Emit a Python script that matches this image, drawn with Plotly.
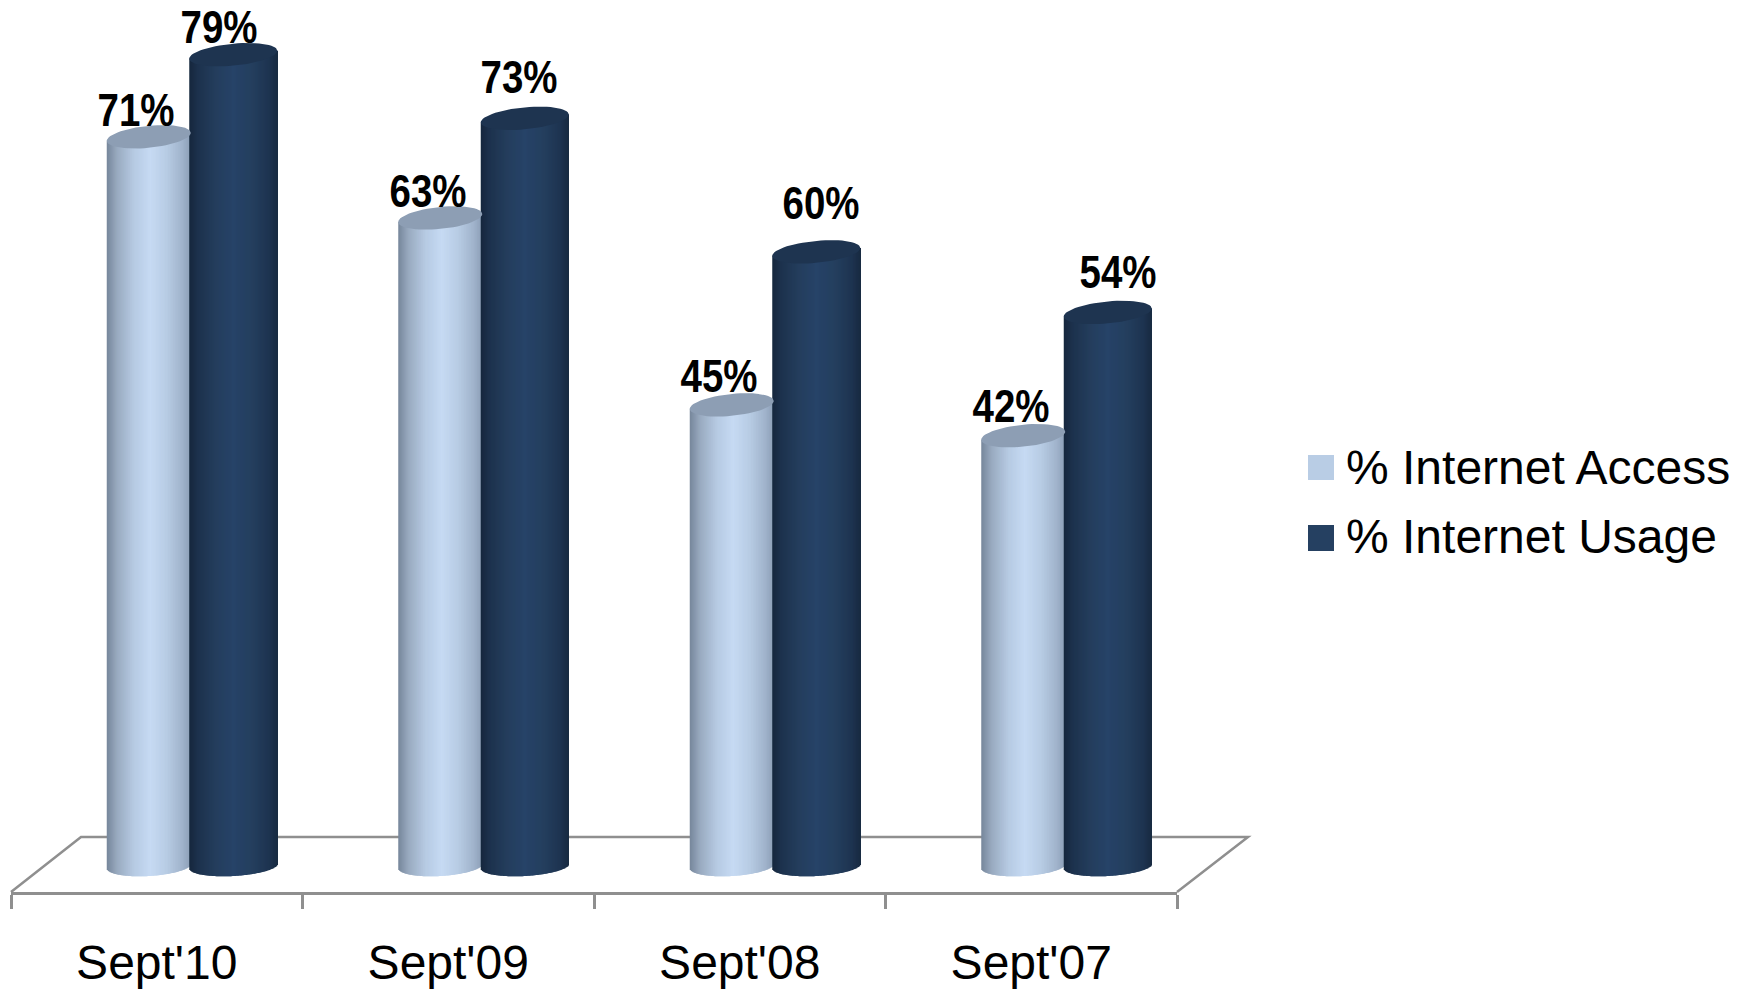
import math
import plotly.graph_objects as go

# ---- data ----
categories = ["Sept'10", "Sept'09", "Sept'08", "Sept'07"]
series_names = ["% Internet Access", "% Internet Usage"]
internet_access = [71, 63.1, 44.9, 41.9]
internet_usage = [79, 72.8, 59.8, 53.9]

# ---- styles / geometry (px) ----
W, H = 1752, 992
LEFT, RIGHT, AXIS_Y = 11, 1177, 892
ZERO_Y = 866
PX_PER_UNIT = 10.27
CAT_W = (RIGHT - LEFT) / len(categories)
FLOOR = "#8f8f8f"
FONT = "Liberation Sans"

def px_y(px):
    return (ZERO_Y - px) / PX_PER_UNIT

def paper_x(px):
    return (px - LEFT) / (RIGHT - LEFT)

def paper_y(px):
    return 1 - px / AXIS_Y

def lerp_stops(stops, t):
    for (t0, c0), (t1, c1) in zip(stops, stops[1:]):
        if t <= t1:
            f = (t - t0) / (t1 - t0)
            return "#%02x%02x%02x" % tuple(
                round(int(c0[i:i + 2], 16) * (1 - f) + int(c1[i:i + 2], 16) * f) for i in (1, 3, 5))
    return stops[-1][1]

light_stops = [(0, "#76869a"), (0.12, "#98a9bf"), (0.32, "#b6cae2"), (0.52, "#c6daf3"),
               (0.72, "#b7cbe3"), (0.9, "#a0b3cb"), (1, "#8c9eb6")]
dark_stops = [(0, "#16273d"), (0.1, "#1d324d"), (0.3, "#243e5d"), (0.5, "#274368"),
              (0.72, "#243f5e"), (0.9, "#1e3451"), (1, "#182a41")]

cyl = [
    dict(name=series_names[0], vals=internet_access, off=-8, a=42, stops=light_stops,
         cap="#8d9eb4", swatch="#b9cde5", dx=[-13, -12, -13, -12.5], dy=[27, 27, 28.5, 30]),
    dict(name=series_names[1], vals=internet_usage, off=76.5, a=44, stops=dark_stops,
         cap="#1e3450", swatch="#254061", dx=[-14, -6, 5, 10], dy=[28, 41, 49, 40]),
]
fig = go.Figure()

# category axis carrier
fig.add_trace(go.Scatter(x=categories, y=[0] * 4, mode="markers", marker=dict(opacity=0),
                         xaxis="x", yaxis="y", showlegend=False, hoverinfo="skip"))

shapes = [dict(type="path", xref="paper", yref="paper", layer="below",
               path=f"M{paper_x(LEFT)},{paper_y(AXIS_Y)} L{paper_x(81)},{paper_y(837)} "
                    f"L{paper_x(1248)},{paper_y(837)} L{paper_x(RIGHT)},{paper_y(AXIS_Y)}",
               line=dict(color=FLOOR, width=2.5))]
annotations = []
for s in cyl:
    strips = s["a"] * 2
    step = 2 * s["a"] / CAT_W / strips
    xs, bases, hs, cols, widths = [], [], [], [], []
    cx_list = []
    for i, v in enumerate(s["vals"]):
        cx = i + s["off"] / CAT_W
        cx_list.append(cx)
        a = s["a"] / CAT_W
        for k in range(strips):
            u = -1 + (2 * k + 1) / strips
            base = -(-2.5 * u + 10 * math.sqrt(max(0, 1 - u * u))) / PX_PER_UNIT
            top = v + 4 * u / PX_PER_UNIT
            w = step if k == strips - 1 else 2 * step
            xs.append(cx + a * u - step / 2 + w / 2)
            widths.append(w)
            bases.append(base)
            hs.append(top - base)
            cols.append(lerp_stops(s["stops"], (u + 1) / 2))
    fig.add_trace(go.Bar(x=xs, y=hs, base=bases, width=widths,
                         marker=dict(color=cols, line=dict(width=0)), name=s["name"],
                         xaxis="x2", yaxis="y", showlegend=False, hoverinfo="skip"))
    cap_x, cap_y = [], []
    for i, v in enumerate(s["vals"]):
        for j in range(61):
            t = 2 * math.pi * j / 60
            cap_x.append(cx_list[i] + s["a"] / CAT_W * math.cos(t))
            cap_y.append(v + (4 * math.cos(t) + 11 * math.sin(t)) / PX_PER_UNIT)
        cap_x.append(None)
        cap_y.append(None)
    fig.add_trace(go.Scatter(x=cap_x, y=cap_y, mode="lines", fill="toself", fillcolor=s["cap"],
                             line=dict(width=0, color=s["cap"]), xaxis="x2", yaxis="y",
                             showlegend=False, hoverinfo="skip"))
    for i, v in enumerate(s["vals"]):
        annotations.append(dict(x=cx_list[i], y=v, xref="x2", yref="y", xshift=s["dx"][i], yshift=s["dy"][i],
                                text=f"{round(v)}%", showarrow=False,
                                font=dict(family=FONT, size=46, color="black", weight="bold"),
                                xanchor="center", yanchor="middle"))

# legend
leg_y = [(455, 480, 468), (525, 551, 536)]
for s, (y0, y1, yc) in zip(cyl, leg_y):
    shapes.append(dict(type="rect", xref="paper", yref="paper", layer="below",
                       x0=paper_x(1308), x1=paper_x(1334), y0=paper_y(y1), y1=paper_y(y0),
                       fillcolor=s["swatch"], line=dict(width=0)))
    annotations.append(dict(x=paper_x(1344), y=paper_y(yc), xref="paper", yref="paper",
                            text=s["name"], showarrow=False, xanchor="left", yanchor="middle",
                            font=dict(family=FONT, size=48, color="black")))

fig.update_layout(
    width=W, height=H, margin=dict(l=LEFT, r=W - RIGHT, t=0, b=H - AXIS_Y, pad=0),
    paper_bgcolor="white", plot_bgcolor="rgba(0,0,0,0)", barmode="overlay", showlegend=False,
    annotations=annotations, shapes=shapes,
    xaxis=dict(type="category", categoryorder="array", categoryarray=categories, range=[-0.5, 3.5],
               tickson="boundaries", ticks="outside", ticklen=14, tickwidth=2.5, tickcolor=FLOOR,
               showline=True, linecolor=FLOOR, linewidth=2.5, showgrid=False, zeroline=False,
               ticklabelstandoff=27, tickfont=dict(family=FONT, size=48, color="black")),
    xaxis2=dict(overlaying="x", anchor="y", range=[-0.5, 3.5], visible=False),
    yaxis=dict(range=[px_y(AXIS_Y), px_y(0)], visible=False, fixedrange=True),
)
narrow = """
document.body.style.margin='0';
function narrowLabels(){
  document.querySelectorAll('.annotation-text').forEach(function(t){
    var s=t.textContent;
    if(/^[0-9]+%$/.test(s)){t.setAttribute('textLength','77');t.setAttribute('lengthAdjust','spacingAndGlyphs');}
  });
}
narrowLabels();setTimeout(narrowLabels,100);setTimeout(narrowLabels,500);
"""
fig.write_html("out.html", post_script=narrow, config=dict(displayModeBar=False))
